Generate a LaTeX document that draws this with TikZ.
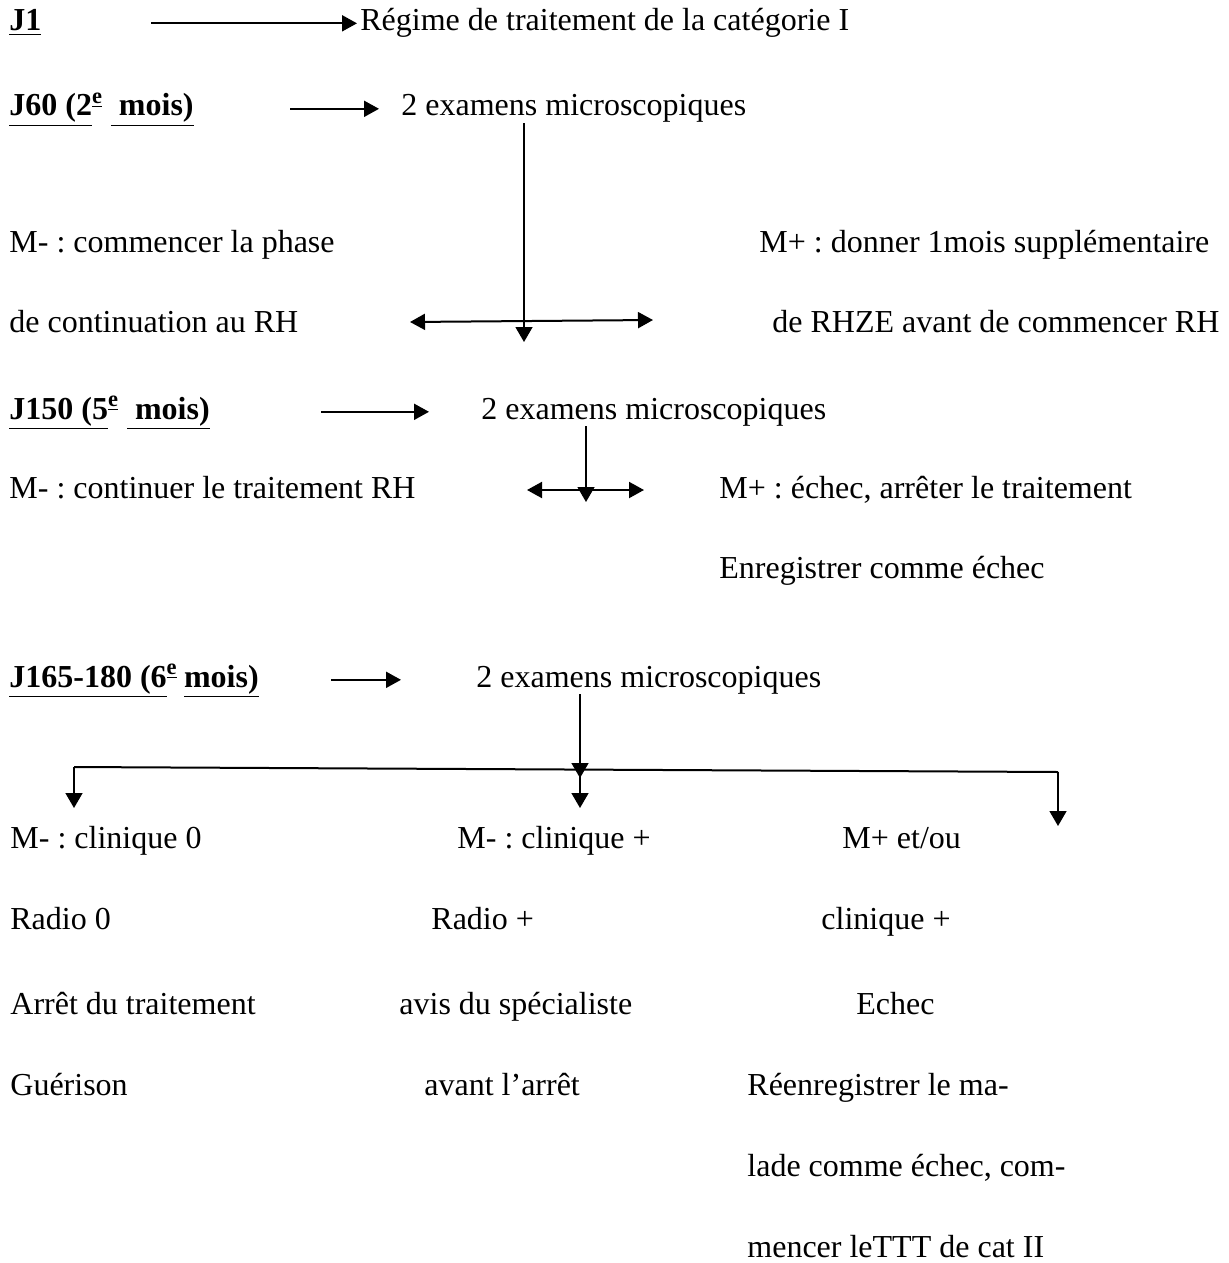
\documentclass[tikz,border=0pt]{standalone}
\usepackage{fontspec}
\setmainfont{Liberation Serif}
\usetikzlibrary{arrows.meta}
\frenchspacing
\begin{document}
\begin{tikzpicture}[x=0.5pt,y=-0.5pt,
	txt/.style={anchor=base west,inner sep=0pt,font=\fontsize{16}{19}\selectfont},
	harr/.style={-{Triangle[length=7.5pt,width=8pt]},line width=1pt},
	twoarr/.style={{Triangle[length=7.5pt,width=8pt]}-{Triangle[length=7.5pt,width=8pt]},line width=1pt},
	varr/.style={-{Triangle[length=7.5pt,width=8.5pt]},line width=0.75pt}]
	\useasboundingbox (0,0) rectangle (1229,1263);
	% jours
	\node[txt] (j1) at (9,31) {\textbf{\underline{J1}}};
	\node[txt] (j60) at (9,116) {\textbf{\underline{J60 (2}\textsuperscript{\underline{e}}\hspace{0.25em}\underline{\ mois)}}};
	\node[txt] (j150) at (9,419) {\textbf{\underline{J150 (5}\textsuperscript{\underline{e}}\hspace{0.25em}\underline{\ mois)}}};
	\node[txt] (j165) at (9,687) {\textbf{\underline{J165-180 (6}\textsuperscript{\underline{e}}\hspace{0.2em}\underline{mois)}}};
	% examens
	\node[txt] (regime) at (360,31) {Régime de traitement de la catégorie I};
	\node[txt] (exam1) at (401,116) {2 examens microscopiques};
	\node[txt] (exam2) at (481,419) {2 examens microscopiques};
	\node[txt] (exam3) at (476,687) {2 examens microscopiques};
	% J60
	\node[txt] (moins1a) at (9,252) {M- : commencer la phase};
	\node[txt] (moins1b) at (9,332) {de continuation au RH};
	\node[txt] (plus1a) at (759,252) {M+ : donner 1mois supplémentaire};
	\node[txt] (plus1b) at (772,332) {de RHZE avant de commencer RH};
	% J150
	\node[txt] (moins2) at (9,498) {M- : continuer le traitement RH};
	\node[txt] (plus2a) at (719,498) {M+ : échec, arrêter le traitement};
	\node[txt] (plus2b) at (719,578) {Enregistrer comme échec};
	% J165-180
	\node[txt] (clin0) at (10,848) {M- : clinique 0};
	\node[txt] (radio0) at (10,929) {Radio 0};
	\node[txt] (arret) at (10,1014) {Arrêt du traitement};
	\node[txt] (guerison) at (10,1095) {Guérison};
	\node[txt] (clinp) at (457,848) {M- : clinique +};
	\node[txt] (radiop) at (431,929) {Radio +};
	\node[txt] (avis) at (399,1014) {avis du spécialiste};
	\node[txt] (avant) at (424,1095) {avant l’arrêt};
	\node[txt] (etou) at (842,848) {M+ et/ou};
	\node[txt] (clinp3) at (821,929) {clinique +};
	\node[txt] (echec) at (856,1014) {Echec};
	\node[txt] (reenr) at (747,1095) {Réenregistrer le ma-};
	\node[txt] (lade) at (747,1176) {lade comme échec, com-};
	\node[txt] (mencer) at (747,1257) {mencer leTTT de cat II};
	% fleches
	\coordinate (s1) at (151,0);
	\coordinate (s2) at (290,0);
	\coordinate (s3) at (321,0);
	\coordinate (s4) at (331,0);
	\draw[harr,shorten >=1.5pt] (s1 |- regime.west) -- (regime.west);
	\draw[harr,shorten >=11pt] (s2 |- exam1.west) -- (exam1.west);
	\draw[harr,shorten >=26pt] (s3 |- exam2.west) -- (exam2.west);
	\draw[harr,shorten >=37.5pt] (s4 |- exam3.west) -- (exam3.west);
	% fourches
	\coordinate (tip1) at (524,342);
	\coordinate (fork1l) at (410,322);
	\coordinate (fork1r) at (653,320);
	\draw[varr] (exam1.south -| tip1) -- (tip1);
	\draw[twoarr] (fork1l) -- (fork1r);
	\coordinate (tip2) at (586,502);
	\coordinate (fork2l) at (527,490);
	\coordinate (fork2r) at (644,490);
	\draw[varr] (exam2.south -| tip2) -- (tip2);
	\draw[twoarr] (fork2l) -- (fork2r);
	\coordinate (tip3) at (580,778);
	\coordinate (barl) at (74,767);
	\coordinate (barm) at (580,770);
	\coordinate (barr) at (1058,772);
	\coordinate (d1) at (74,808);
	\coordinate (d2) at (580,808);
	\coordinate (d3) at (1058,826);
	\draw[varr] (exam3.south -| tip3) -- (tip3);
	\draw[line width=1pt] (barl) -- (barr);
	\draw[varr] (barl) -- (d1);
	\draw[varr] (barm) -- (d2);
	\draw[varr] (barr) -- (d3);
\end{tikzpicture}
\end{document}
